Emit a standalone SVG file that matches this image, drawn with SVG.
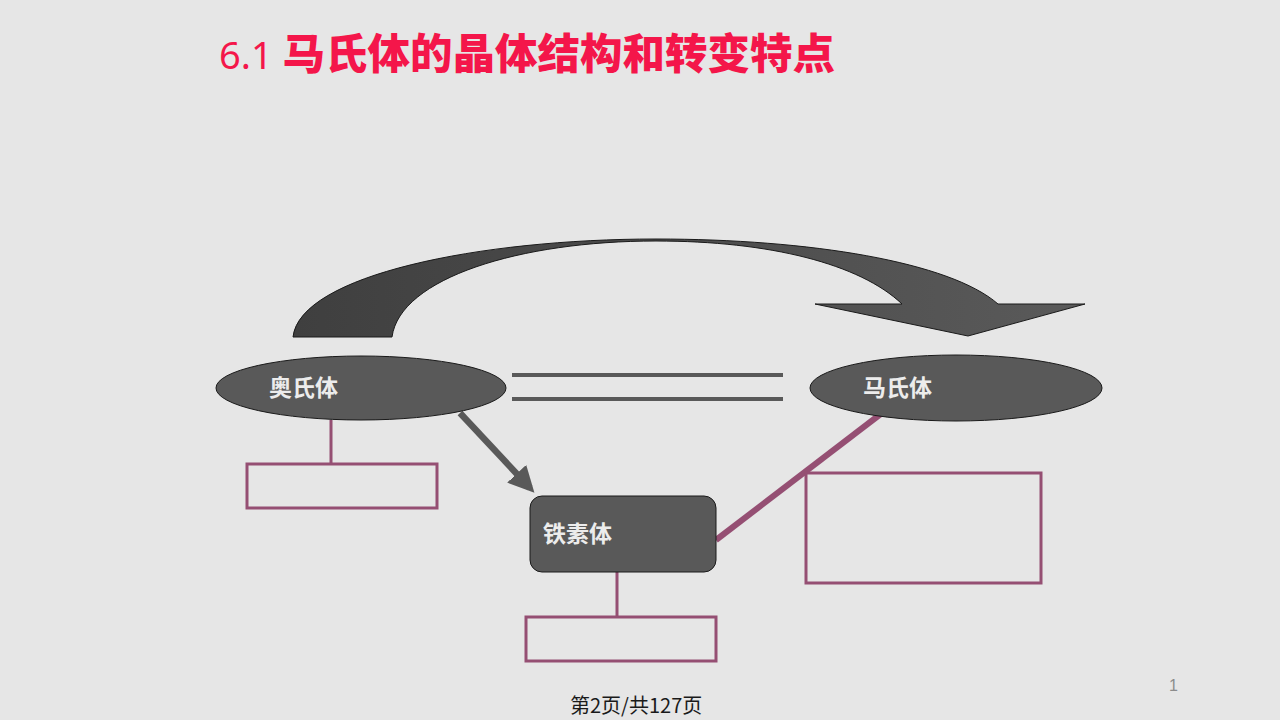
<svg xmlns="http://www.w3.org/2000/svg" width="1280" height="720" viewBox="0 0 1280 720">
<defs>
<linearGradient id="arcg" x1="0" y1="0" x2="1" y2="0">
<stop offset="0" stop-color="#3f3f3f"/>
<stop offset="1" stop-color="#5a5a5a"/>
</linearGradient>
<marker id="ah" markerWidth="4" markerHeight="4" refX="3" refY="2" orient="auto" markerUnits="strokeWidth">
<path d="M0,0 L4,2 L0,4 Z" fill="#595959"/>
</marker>
<style>
.node{fill:#595959;stroke:#1a1a1a;stroke-width:1}
.lbl{font-family:"Noto Sans CJK SC","Noto Sans",sans-serif;font-weight:bold;font-size:23px;fill:#ececec}
.box{fill:none;stroke:#954f73;stroke-width:3}
.pl{stroke:#954f73;stroke-width:3;fill:none}
</style>
</defs>
<rect width="1280" height="720" fill="#e6e6e6"/>
<g id="title">
<text x="219" y="69" font-family="'Noto Sans','Noto Sans CJK SC',sans-serif" font-size="38" fill="#f4164a">6.1 <tspan font-family="'Noto Sans CJK SC',sans-serif" font-weight="900" font-size="42.5">马氏体的晶体结构和转变特点</tspan></text>
</g>
<g id="curved-arrow">
<path d="M293,337 C300,275 480,239 656,239 C810,239 950,262 998,304 L1085,304 L968,336 L815,304 L902,304 C860,264 770,241 656,241 C520,241 400,278 392,337 Z" fill="url(#arcg)" stroke="#1a1a1a" stroke-width="1"/>
</g>
<g id="connectors">
<line x1="512" y1="375" x2="783" y2="375" stroke="#595959" stroke-width="4"/>
<line x1="512" y1="399" x2="783" y2="399" stroke="#595959" stroke-width="4"/>
<line x1="460" y1="413" x2="530" y2="488" stroke="#595959" stroke-width="6.5" marker-end="url(#ah)"/>
<line x1="716" y1="540" x2="882" y2="413" stroke="#954f73" stroke-width="6"/>
<line class="pl" x1="331" y1="420" x2="331" y2="464"/>
<line class="pl" x1="617" y1="572" x2="617" y2="617"/>
</g>
<g id="austenite">
<ellipse class="node" cx="361" cy="388" rx="145" ry="32"/>
<text class="lbl" x="269" y="396">奥氏体</text>
</g>
<g id="martensite">
<ellipse class="node" cx="956" cy="388" rx="146" ry="33"/>
<text class="lbl" x="863" y="396">马氏体</text>
</g>
<g id="ferrite">
<rect class="node" x="530" y="496" width="186" height="76" rx="12"/>
<text class="lbl" x="543" y="542">铁素体</text>
</g>
<g id="box-austenite"><rect class="box" x="247" y="464" width="190" height="44"/></g>
<g id="box-ferrite"><rect class="box" x="526" y="617" width="190" height="44"/></g>
<g id="box-martensite"><rect class="box" x="806" y="473" width="235" height="110"/></g>
<g id="footer">
<text x="1169" y="691" font-family="'Liberation Sans',sans-serif" font-size="16" fill="#8c8c8c">1</text>
<text x="570" y="713" font-family="'Noto Sans CJK SC',sans-serif" font-size="20" fill="#1a1a1a">第2页/共127页</text>
</g>
</svg>
